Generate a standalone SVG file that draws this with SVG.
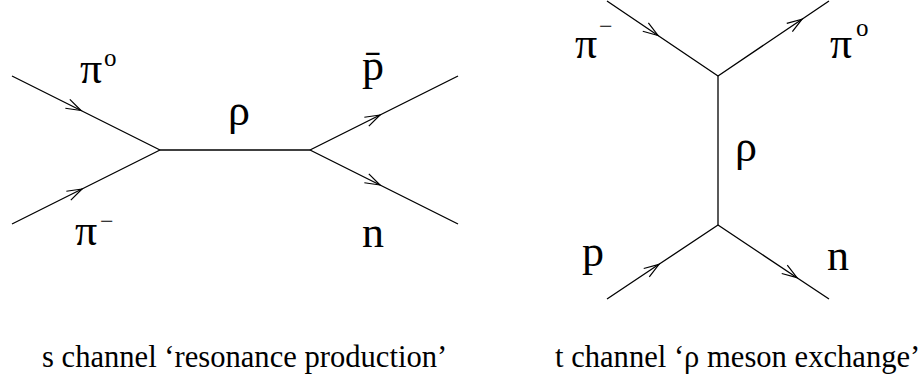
<svg xmlns="http://www.w3.org/2000/svg" width="923" height="382" viewBox="0 0 923 382">
<style>
.ln{fill:none;stroke:#000;stroke-width:1.3}
</style>
<defs>
<marker id="ah" markerUnits="userSpaceOnUse" markerWidth="20" markerHeight="14" viewBox="-16 -7 18 14" refX="0" refY="0" orient="auto">
<path d="M-15,-5 L0,0 L-15,5" fill="none" stroke="#000" stroke-width="1.2"/>
</marker>
</defs>
<rect width="923" height="382" fill="#fff"/>
<g id="connectors">
<path class="ln" marker-mid="url(#ah)" d="M12,76 L81,110.5 L160,150"/>
<path class="ln" marker-mid="url(#ah)" d="M12,224 L82,189 L160,150"/>
<path class="ln" d="M160,150 L310,150"/>
<path class="ln" marker-mid="url(#ah)" d="M310,150 L380,115 L458,76"/>
<path class="ln" marker-mid="url(#ah)" d="M310,150 L380,185 L458,224"/>
<path class="ln" marker-mid="url(#ah)" d="M607,1 L658,35.5 L718,76"/>
<path class="ln" marker-mid="url(#ah)" d="M718,76 L802,19.2 L829,1"/>
<path class="ln" d="M718,76 L718,225"/>
<path class="ln" marker-mid="url(#ah)" d="M607,299 L659,264.3 L718,225"/>
<path class="ln" marker-mid="url(#ah)" d="M718,225 L797,277.7 L829,299"/>
</g>
<g id="s-channel" fill="#000">
<text x="80" y="83" font-family="Liberation Serif" font-size="44">π<tspan font-size="25" x="104" y="66">o</tspan></text>
<text x="75" y="245" font-family="Liberation Serif" font-size="44">π<tspan font-size="24" x="100" y="229">−</tspan></text>
<text x="228" y="125" font-family="Liberation Serif" font-size="44">ρ</text>
<text x="362" y="80" font-family="Liberation Serif" font-size="44">p̄</text>
<text x="362" y="247" font-family="Liberation Serif" font-size="44">n</text>
<text x="42" y="367" font-family="Liberation Serif" font-size="30.6">s channel ‘resonance production’</text>
</g>
<g id="t-channel" fill="#000">
<text x="575" y="58" font-family="Liberation Serif" font-size="44">π<tspan font-size="24" x="599" y="34">−</tspan></text>
<text x="830" y="58" font-family="Liberation Serif" font-size="44">π<tspan font-size="25" x="856" y="36">o</tspan></text>
<text x="735" y="161" font-family="Liberation Serif" font-size="44">ρ</text>
<text x="582" y="266" font-family="Liberation Serif" font-size="44">p</text>
<text x="827" y="270" font-family="Liberation Serif" font-size="44">n</text>
<text x="555" y="367" font-family="Liberation Serif" font-size="30.6">t channel ‘ρ meson exchange’</text>
</g>
</svg>
